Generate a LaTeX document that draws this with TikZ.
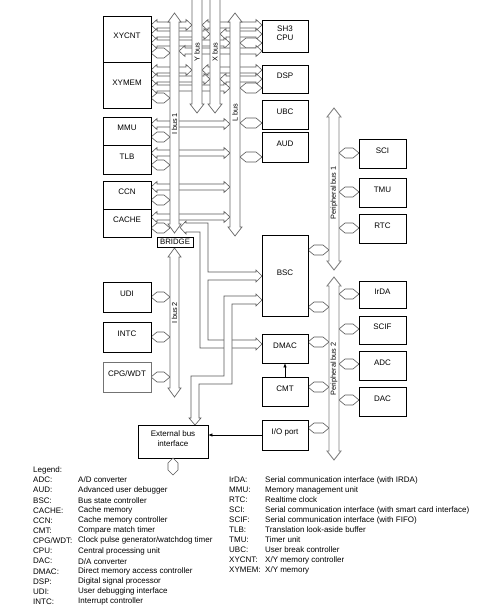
\documentclass[tikz,border=0pt]{standalone}
\usepackage{fontspec}
\setmainfont{Liberation Sans}
\usetikzlibrary{fit,arrows.meta}
\tikzset{
 blk/.style={draw=black, line width=0.7pt, fill=white, inner sep=0pt, align=center, font=\fontsize{8}{9.5}\selectfont},
 conn/.style={draw=black!65, fill=white, line width=0.6pt, line join=miter},
 bus/.style={draw=black!60, fill=white, line width=0.7pt, line join=miter},
 pbus/.style={draw=black!50, fill=white, line width=0.9pt, line join=miter},
 buslbl/.style={rotate=90, font=\fontsize{7.3}{8}\selectfont, inner sep=0pt},
 lg/.style={anchor=west, inner sep=0pt, font=\fontsize{8}{9}\selectfont},
 arr/.style={-{Latex[length=4pt,width=3.5pt]}, line width=0.6pt},
}
\newcommand\mkbox[6]{\node[blk, fit={(#2,#3)(#4,#5)}] (#1) {#6};}
\newcommand\hexh[3]{\draw[conn] (#1,#3) -- ({#1+6},{#3-5}) -- ({#2-6},{#3-5}) -- (#2,#3) -- ({#2-6},{#3+5}) -- ({#1+6},{#3+5}) -- cycle;}
\newcommand\connh[3]{\draw[conn] (#1,#3) -- ({#1+6},{#3-5.5}) -- ({#1+6},{#3-3}) -- ({#2-6},{#3-3}) -- ({#2-6},{#3-5.5}) -- (#2,#3) -- ({#2-6},{#3+5.5}) -- ({#2-6},{#3+3}) -- ({#1+6},{#3+3}) -- ({#1+6},{#3+5.5}) -- cycle;}
\newcommand\vbus[5]{\draw[#5] ({(#1+#2)/2},#3) -- ({#2+2},{#3+9}) -- (#2,{#3+9}) -- (#2,{#4-9}) -- ({#2+2},{#4-9}) -- ({(#1+#2)/2},#4) -- ({#1-2},{#4-9}) -- (#1,{#4-9}) -- (#1,{#3+9}) -- ({#1-2},{#3+9}) -- cycle;}
\newcommand\vbusb[3]{\draw[bus] (#1,-3) -- (#2,-3) -- (#2,{#3-9}) -- ({#2+2},{#3-9}) -- ({(#1+#2)/2},#3) -- ({#1-2},{#3-9}) -- (#1,{#3-9}) -- cycle;}
\newcommand\legl[4]{\node[lg] (#1a) at (33,#2) {#3}; \node[lg] (#1b) at (78,#2) {#4};}
\newcommand\legr[4]{\node[lg] (#1a) at (229,#2) {#3}; \node[lg] (#1b) at (265,#2) {#4};}
\begin{document}
\begin{tikzpicture}[x=1pt,y=-1pt]
\useasboundingbox (0,0) rectangle (497,610);
% ---------- horizontal connectors, top region ----------
% XYCNT
\connh{151}{192}{25} \connh{151}{210}{34} \connh{151}{230}{43} \hexh{151}{170}{53}
% XYMEM
\connh{151}{192}{70} \connh{151}{210}{79} \connh{151}{230}{88} \hexh{151}{170}{98}
% SH3 CPU
\connh{202}{262}{25} \connh{220}{262}{34} \hexh{240}{262}{43} \connh{179}{262}{51}
% DSP
\connh{202}{262}{70} \connh{220}{262}{79} \hexh{240}{262}{88}
% MMU, TLB, CCN, CACHE
\connh{151}{230}{124} \hexh{151}{170}{137}
\connh{151}{230}{153} \hexh{151}{170}{165}
\connh{151}{230}{187} \hexh{151}{170}{200}
\connh{151}{230}{217} \hexh{151}{170}{228}
% UBC, AUD
\hexh{240}{262}{123} \hexh{240}{262}{157}
% UDI, INTC, CPG/WDT
\hexh{151}{170}{297} \hexh{151}{170}{337} \hexh{151}{170}{377}
% peripheral side
\hexh{308}{329}{250} \hexh{308}{329}{307} \hexh{308}{329}{342} \hexh{308}{329}{387} \hexh{308}{329}{428}
\hexh{339}{359}{153} \hexh{339}{359}{192} \hexh{339}{359}{228}
\hexh{339}{359}{294} \hexh{339}{359}{329} \hexh{339}{359}{364} \hexh{339}{359}{400}
% ---------- bridge -> BSC / DMAC connector ----------
\draw[conn] (180,227.5) -- (186,221) -- (186,223) -- (208,223) -- (208,272) -- (256,272) -- (256,270) -- (262,276) -- (256,282) -- (256,280) -- (208,280) -- (208,340) -- (256,340) -- (256,338) -- (262,344) -- (256,350) -- (256,348) -- (200,348) -- (200,232) -- (186,232) -- (186,234) -- cycle;
% ---------- BSC -> external bus interface connector ----------
\draw[conn] (262,300) -- (256,294) -- (256,296) -- (224,296) -- (224,376) -- (191,376) -- (191,418) -- (189,418) -- (195,425) -- (201,418) -- (199,418) -- (199,384) -- (232,384) -- (232,304) -- (256,304) -- (256,306) -- cycle;
% ---------- vertical buses ----------
\vbusb{192}{202}{113}
\vbusb{210}{220}{113}
\vbus{170}{179}{13}{233}{bus}
\vbus{230}{240}{13}{236}{bus}
\vbus{170}{179}{248}{397}{bus}
\vbus{329}{339}{108}{270}{pbus}
\vbus{329}{339}{277}{460}{pbus}
\node[buslbl] (ylbl) at (197,52) {Y bus};
\node[buslbl] (xlbl) at (215,52) {X bus};
\node[buslbl] (llbl) at (235,113) {L bus};
\node[buslbl] (i1lbl) at (174.5,124) {I bus 1};
\node[buslbl] (i2lbl) at (174.5,313) {I bus 2};
\node[buslbl] (p1lbl) at (334,193) {Peripheral bus 1};
\node[buslbl] (p2lbl) at (334,369) {Peripheral bus 2};
% ---------- boxes ----------
\mkbox{xycnt}{103}{16}{151}{62}{XYCNT}
\mkbox{xymem}{103}{62}{151}{108}{XYMEM}
\mkbox{mmu}{103}{117}{151}{145}{MMU}
\mkbox{tlb}{103}{145}{151}{174}{TLB}
\mkbox{ccn}{103}{181}{151}{209}{CCN}
\mkbox{cache}{103}{209}{151}{237}{CACHE}
\mkbox{udi}{103}{282}{151}{312}{UDI}
\mkbox{intc}{103}{322}{151}{352}{INTC}
\node[blk, draw=black!55, fit={(103,362)(151,392)}] (cpg) {CPG/WDT};
\mkbox{cpu}{262}{20}{308}{52}{SH3\\CPU}
\mkbox{dsp}{262}{65}{308}{93}{DSP}
\mkbox{ubc}{262}{100}{308}{129}{UBC}
\mkbox{aud}{262}{132}{308}{162}{AUD}
\mkbox{bsc}{262}{235}{308}{316}{BSC}
\mkbox{dmac}{262}{334}{308}{363}{DMAC}
\mkbox{cmt}{262}{377}{308}{406}{CMT}
\mkbox{io}{262}{420}{308}{450}{I/O port}
\mkbox{sci}{359}{139}{406}{168}{SCI}
\mkbox{tmu}{359}{178}{406}{207}{TMU}
\mkbox{rtc}{359}{214}{406}{243}{RTC}
\mkbox{irda}{359}{281}{406}{308}{IrDA}
\mkbox{scif}{359}{316}{406}{344}{SCIF}
\mkbox{adc}{359}{351}{406}{380}{ADC}
\mkbox{dac}{359}{387}{406}{416}{DAC}
\mkbox{ext}{138}{425}{208}{458}{External bus\\interface}
\node[draw=black, line width=0.7pt, fill=white, inner sep=0pt, minimum width=36pt, minimum height=10pt, font=\fontsize{7.8}{8}\selectfont] (bridge) at (175,242) {BRIDGE};
% ---------- plain arrows ----------
\draw[arr] (cmt.north) -- (dmac.south);
\draw[arr] (io.west) -- (ext.east |- io.west);
\draw[conn] (173,458) -- (178,463) -- (178,470) -- (173,475) -- (168,470) -- (168,463) -- cycle;
% ---------- legend ----------
\node[lg] (legend) at (33,470) {Legend:};
\legl{l1}{480.0}{ADC:}{A/D converter}
\legl{l2}{490.2}{AUD:}{Advanced user debugger}
\legl{l3}{500.3}{BSC:}{Bus state controller}
\legl{l4}{510.5}{CACHE:}{Cache memory}
\legl{l5}{520.6}{CCN:}{Cache memory controller}
\legl{l6}{530.8}{CMT:}{Compare match timer}
\legl{l7}{540.9}{CPG/WDT:}{Clock pulse generator/watchdog timer}
\legl{l8}{551.1}{CPU:}{Central processing unit}
\legl{l9}{561.2}{DAC:}{D/A converter}
\legl{l10}{571.4}{DMAC:}{Direct memory access controller}
\legl{l11}{581.5}{DSP:}{Digital signal processor}
\legl{l12}{591.7}{UDI:}{User debugging interface}
\legl{l13}{601.8}{INTC:}{Interrupt controller}
\legr{r1}{480}{IrDA:}{Serial communication interface (with IRDA)}
\legr{r2}{490}{MMU:}{Memory management unit}
\legr{r3}{500}{RTC:}{Realtime clock}
\legr{r4}{510}{SCI:}{Serial communication interface (with smart card interface)}
\legr{r5}{520}{SCIF:}{Serial communication interface (with FIFO)}
\legr{r6}{530}{TLB:}{Translation look-aside buffer}
\legr{r7}{540}{TMU:}{Timer unit}
\legr{r8}{550}{UBC:}{User break controller}
\legr{r9}{560}{XYCNT:}{X/Y memory controller}
\legr{r10}{570}{XYMEM:}{X/Y memory}
\end{tikzpicture}
\end{document}
